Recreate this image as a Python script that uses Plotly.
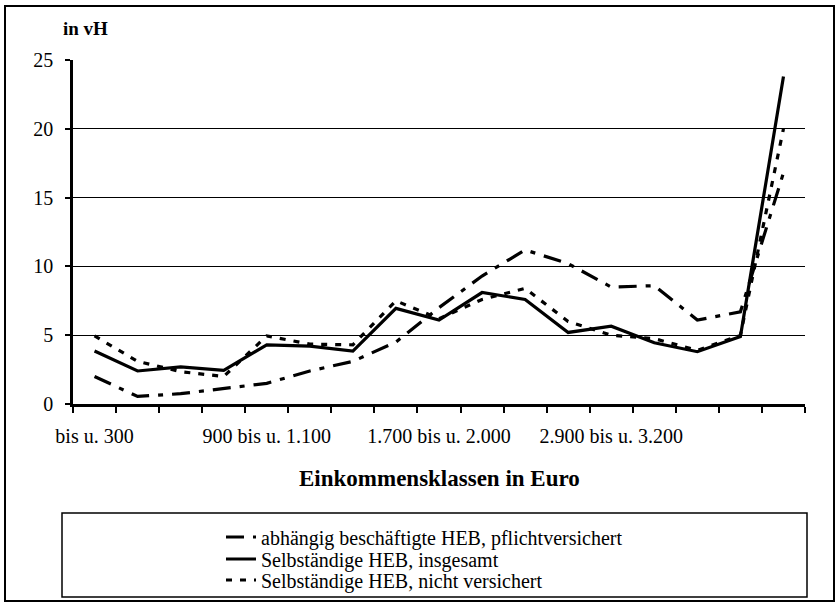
import plotly.graph_objects as go

categories = [
    "bis u. 300", "300 bis u. 500", "500 bis u. 700", "700 bis u. 900",
    "900 bis u. 1.100", "1.100 bis u. 1.300", "1.300 bis u. 1.500",
    "1.500 bis u. 1.700", "1.700 bis u. 2.000", "2.000 bis u. 2.300",
    "2.300 bis u. 2.600", "2.600 bis u. 2.900", "2.900 bis u. 3.200",
    "3.200 bis u. 3.500", "3.500 bis u. 4.000", "4.000 bis u. 5.000",
    "5.000 und mehr",
]
shown_labels = ["bis u. 300", "900 bis u. 1.100", "1.700 bis u. 2.000", "2.900 bis u. 3.200"]
tick_labels = [c if c in shown_labels else "" for c in categories]

abhaengig = [2.0, 0.55, 0.75, 1.1, 1.5, 2.4, 3.1, 4.5, 7.0, 9.3, 11.2, 10.2, 8.5, 8.6, 6.1, 6.7, 16.8]
selbst_gesamt = [3.85, 2.4, 2.7, 2.45, 4.3, 4.2, 3.85, 6.95, 6.1, 8.1, 7.6, 5.2, 5.65, 4.45, 3.8, 4.9, 23.8]
selbst_nicht = [4.95, 3.1, 2.35, 2.0, 4.95, 4.35, 4.3, 7.5, 6.2, 7.6, 8.4, 6.0, 5.0, 4.75, 3.9, 5.0, 20.0]

names = [
    "abhängig beschäftigte HEB, pflichtversichert",
    "Selbständige HEB, insgesamt",
    "Selbständige HEB, nicht versichert",
]

W, H = 838, 603
L, R, T, B = 73, 805, 60, 404


def px(x):
    return (x - L) / (R - L)


def py(y):
    return (B - y) / (B - T)


FONT = "Liberation Serif"
LEG_FONT = dict(size=20, family=FONT, color="black")

fig = go.Figure()
fig.add_trace(go.Scatter(x=categories, y=abhaengig, mode="lines", name=names[0], legend="legend",
                         line=dict(color="black", width=3.2, dash="18px,9px,5px,9px")))
fig.add_trace(go.Scatter(x=categories, y=selbst_gesamt, mode="lines", name=names[1], legend="legend2",
                         line=dict(color="black", width=3.2)))
fig.add_trace(go.Scatter(x=categories, y=selbst_nicht, mode="lines", name=names[2], legend="legend3",
                         line=dict(color="black", width=3.2, dash="6px,8px")))


def leg(yc):
    return dict(x=px(221), y=py(yc), xanchor="left", yanchor="middle",
                bgcolor="rgba(0,0,0,0)", font=LEG_FONT, borderwidth=0)


fig.update_layout(
    width=W, height=H,
    margin=dict(l=L, r=W - R, t=T, b=H - B, autoexpand=False),
    paper_bgcolor="white", plot_bgcolor="white",
    font=dict(family=FONT, color="black", size=18),
    showlegend=True,
    legend=leg(537), legend2=leg(559), legend3=leg(580),
)
fig.update_xaxes(
    type="category", range=[-0.5, len(categories) - 0.5],
    tickmode="array", tickvals=categories, ticktext=tick_labels,
    tickson="boundaries", ticks="outside", ticklen=6, tickwidth=2,
    tickcolor="black", showline=True, linewidth=2.5, linecolor="black",
    showgrid=False, zeroline=False, tickangle=0, automargin=False,
    tickfont=dict(size=20, family=FONT), ticklabelstandoff=12,
)
fig.update_yaxes(
    range=[0, 25], dtick=5, tick0=0, showgrid=True, gridcolor="black", gridwidth=1,
    showline=True, linewidth=2.5, linecolor="black", ticks="outside", ticklen=5,
    tickwidth=2, tickcolor="black", zeroline=False, automargin=False,
    tickfont=dict(size=20, family=FONT), ticklabelstandoff=8,
)

fig.add_annotation(text="<b>in vH</b>", xref="paper", yref="paper", x=px(61), y=py(28),
                   xanchor="left", yanchor="middle", showarrow=False,
                   font=dict(size=19, family=FONT))
fig.add_annotation(text="<b>Einkommensklassen in Euro</b>", xref="paper", yref="paper",
                   x=px(439), y=py(478), xanchor="center", yanchor="middle", showarrow=False,
                   font=dict(size=23, family=FONT))

fig.add_shape(type="rect", xref="paper", yref="paper", x0=px(62), x1=px(807),
              y0=py(597), y1=py(513), line=dict(color="black", width=1.5))
fig.add_shape(type="rect", xref="paper", yref="paper", x0=px(5), x1=px(834),
              y0=py(601), y1=py(6), line=dict(color="black", width=2))

fig.write_html("out.html", config={"displayModeBar": False},
               post_script="document.body.style.margin='0';")
